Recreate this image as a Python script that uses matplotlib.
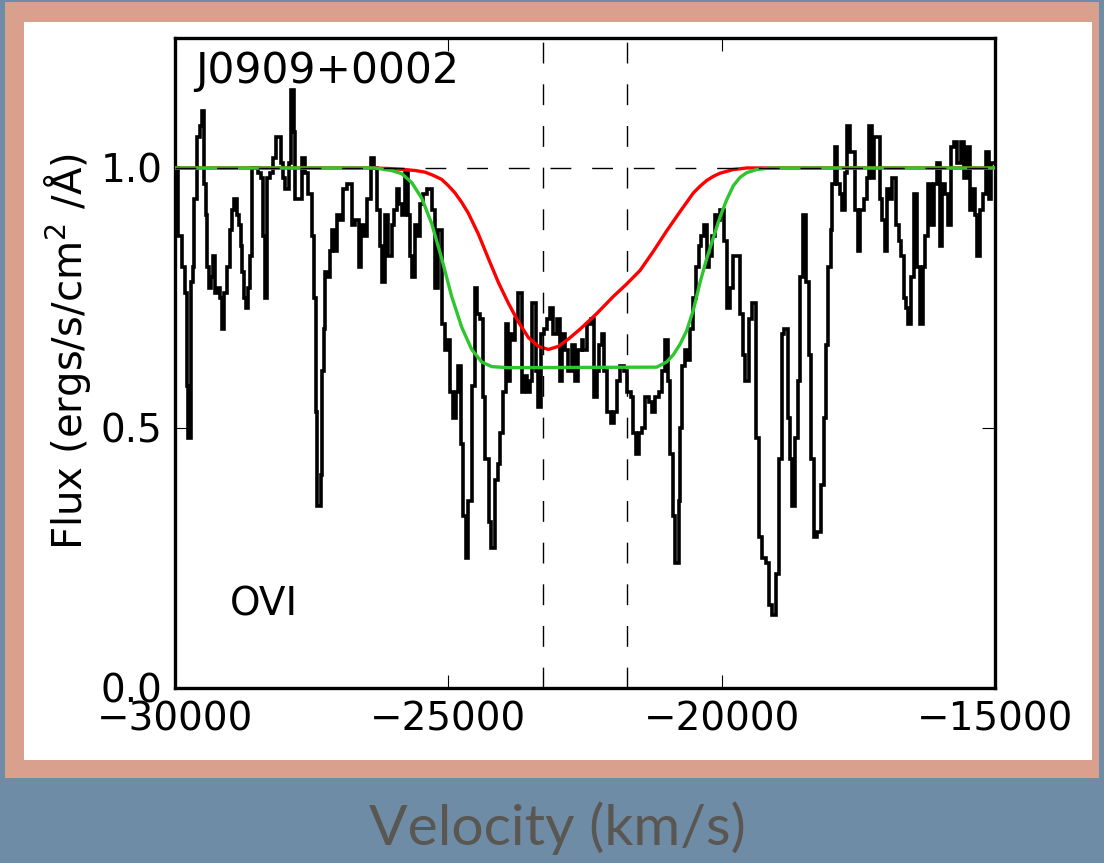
import matplotlib
matplotlib.use('Agg')
import matplotlib.pyplot as plt
from matplotlib.patches import Rectangle

# ── Data ───────────────────────────────────────────────────
# spectrum: left edge of each pixel (km/s) and its normalised flux
spec_vel = [
    -30000, -29939, -29878, -29817, -29786, -29756, -29707, -29677, -29652, -29603,
    -29542, -29512, -29469, -29439, -29408, -29378, -29347, -29311, -29268, -29225,
    -29176, -29140, -29103, -29042, -28993, -28951, -28920, -28872, -28829, -28798,
    -28768, -28737, -28701, -28658, -28628, -28591, -28475, -28433, -28384, -28359,
    -28323, -28262, -28201, -28158, -28097, -28060, -28018, -27987, -27920, -27871,
    -27829, -27798, -27682, -27621, -27560, -27499, -27457, -27420, -27396, -27335,
    -27310, -27280, -27250, -27213, -27164, -27121, -27073, -27030, -26981, -26920,
    -26859, -26768, -26701, -26640, -26603, -26542, -26481, -26420, -26359, -26311,
    -26250, -26207, -26158, -26097, -26036, -25987, -25945, -25896, -25853, -25792,
    -25731, -25695, -25658, -25609, -25561, -25518, -25457, -25384, -25304, -25243,
    -25183, -25122, -25060, -25012, -24963, -24914, -24865, -24817, -24768, -24725,
    -24683, -24634, -24573, -24512, -24475, -24414, -24372, -24323, -24262, -24213,
    -24146, -24097, -24048, -24000, -23951, -23902, -23872, -23829, -23780, -23719,
    -23658, -23615, -23567, -23506, -23463, -23402, -23353, -23304, -23249, -23188,
    -23140, -23079, -23018, -22957, -22914, -22865, -22804, -22743, -22682, -22621,
    -22560, -22530, -22469, -22396, -22335, -22274, -22237, -22195, -22152, -22091,
    -22030, -21969, -21908, -21859, -21786, -21725, -21664, -21615, -21573, -21518,
    -21457, -21396, -21335, -21274, -21213, -21152, -21091, -21030, -20987, -20945,
    -20896, -20853, -20786, -20756, -20719, -20664, -20628, -20573, -20518, -20475,
    -20420, -20384, -20323, -20268, -20231, -20176, -20115, -20073, -20024, -19963,
    -19902, -19853, -19792, -19731, -19664, -19609, -19567, -19506, -19445, -19378,
    -19317, -19256, -19195, -19134, -19072, -19012, -18951, -18896, -18853, -18792,
    -18756, -18719, -18658, -18609, -18561, -18512, -18463, -18408, -18359, -18311,
    -18250, -18183, -18134, -18091, -18048, -18006, -17975, -17933, -17884, -17835,
    -17792, -17750, -17701, -17646, -17591, -17554, -17506, -17463, -17402, -17341,
    -17298, -17250, -17213, -17158, -17103, -17067, -17018, -16975, -16914, -16878,
    -16817, -16762, -16713, -16670, -16621, -16585, -16530, -16481, -16420, -16365,
    -16317, -16274, -16225, -16176, -16115, -16054, -16000, -15963, -15914, -15859,
    -15810, -15749, -15688, -15627, -15566, -15512, -15451, -15414, -15359, -15322,
    -15274, -15219, -15170, -15115, -15073, -15000,
]
spec_flux = [
    1.00, 0.87, 0.81, 0.76, 0.58, 0.48, 0.78, 0.81, 0.94, 1.06,
    1.08, 1.11, 0.97, 0.91, 0.81, 0.77, 0.79, 0.83, 0.76, 0.77,
    0.75, 0.69, 0.76, 0.81, 0.88, 0.92, 0.94, 0.91, 0.89, 0.85,
    0.80, 0.75, 0.73, 0.77, 0.83, 1.00, 0.99, 0.98, 0.87, 0.75,
    0.98, 0.99, 1.02, 1.06, 1.06, 1.01, 0.98, 0.96, 1.01, 1.15,
    1.07, 0.94, 1.02, 0.99, 0.95, 0.87, 0.75, 0.53, 0.35, 0.41,
    0.61, 0.69, 0.80, 0.79, 0.84, 0.88, 0.84, 0.91, 0.90, 0.96,
    0.97, 0.89, 0.90, 0.81, 0.89, 0.87, 0.94, 1.02, 1.00, 0.92,
    0.85, 0.78, 0.91, 0.83, 0.89, 0.92, 0.96, 0.93, 0.91, 0.99,
    0.91, 0.83, 0.79, 0.89, 0.87, 0.93, 0.95, 0.96, 0.92, 0.77,
    0.88, 0.70, 0.65, 0.67, 0.57, 0.52, 0.57, 0.62, 0.47, 0.33,
    0.25, 0.36, 0.58, 0.77, 0.72, 0.71, 0.56, 0.44, 0.32, 0.27,
    0.40, 0.43, 0.49, 0.57, 0.70, 0.59, 0.68, 0.67, 0.71, 0.76,
    0.57, 0.60, 0.57, 0.59, 0.74, 0.61, 0.54, 0.68, 0.69, 0.71,
    0.73, 0.68, 0.71, 0.59, 0.68, 0.65, 0.61, 0.66, 0.59, 0.65,
    0.67, 0.65, 0.70, 0.71, 0.56, 0.61, 0.66, 0.68, 0.61, 0.53,
    0.51, 0.53, 0.59, 0.62, 0.61, 0.57, 0.56, 0.49, 0.45, 0.49,
    0.50, 0.56, 0.55, 0.53, 0.56, 0.57, 0.61, 0.67, 0.59, 0.45,
    0.33, 0.24, 0.36, 0.50, 0.62, 0.65, 0.63, 0.69, 0.75, 0.81,
    0.85, 0.87, 0.89, 0.81, 0.83, 0.87, 0.91, 0.90, 0.92, 0.86,
    0.73, 0.77, 0.83, 0.83, 0.72, 0.64, 0.59, 0.71, 0.74, 0.48,
    0.29, 0.25, 0.24, 0.16, 0.14, 0.22, 0.44, 0.68, 0.69, 0.52,
    0.44, 0.35, 0.48, 0.59, 0.79, 0.91, 0.78, 0.64, 0.44, 0.29,
    0.30, 0.39, 0.52, 0.66, 0.81, 0.88, 0.97, 1.04, 0.97, 0.95,
    0.92, 0.99, 1.08, 1.03, 1.03, 0.92, 0.84, 0.92, 0.94, 0.98,
    1.08, 0.98, 1.06, 1.06, 0.94, 0.90, 0.84, 0.96, 0.94, 0.98,
    0.89, 0.86, 0.83, 0.75, 0.73, 0.70, 0.79, 0.95, 0.81, 0.70,
    0.81, 0.87, 0.97, 0.89, 0.97, 1.01, 0.85, 0.97, 0.95, 0.89,
    1.04, 1.05, 1.01, 1.05, 0.98, 1.04, 0.92, 0.96, 0.91, 0.83,
    0.92, 0.95, 1.03, 0.94, 1.01,
]

# model fits
red_vel = [-30000, -26400, -26100, -25800, -25600, -25427, -25280, -25122, -25000,
           -24878, -24756, -24634, -24451, -24268, -24085, -23902, -23719, -23536,
           -23353, -23170, -22987, -22804, -22591, -22286, -21981, -21737, -21493,
           -21248, -21006, -20762, -20518, -20395, -20273, -20150, -20030, -19786,
           -19542, -15000]
red_flux = [1.0, 1.0, 0.999, 0.997, 0.995, 0.992, 0.986, 0.978, 0.966,
            0.952, 0.934, 0.913, 0.873, 0.826, 0.780, 0.740, 0.704, 0.674,
            0.657, 0.651, 0.657, 0.671, 0.690, 0.720, 0.753, 0.777, 0.803,
            0.840, 0.879, 0.916, 0.952, 0.965, 0.976, 0.984, 0.990, 0.997,
            1.0, 1.0]

green_vel = [-30000, -26341, -26036, -25853, -25670, -25487, -25304, -25122, -24939,
             -24756, -24573, -24390, -24207, -23902, -21189, -21006, -20884, -20762,
             -20640, -20518, -20396, -20273, -20152, -20030, -19908, -19786, -19664,
             -19542, -19359, -19115, -15000]
green_flux = [1.0, 1.0, 0.995, 0.989, 0.972, 0.942, 0.893, 0.826, 0.753,
              0.694, 0.651, 0.627, 0.618, 0.616, 0.617, 0.627, 0.641, 0.661,
              0.687, 0.727, 0.780, 0.826, 0.866, 0.906, 0.939, 0.966, 0.982,
              0.991, 0.997, 1.0, 1.0]

comp_vel = [-23270, -21730]      # vertical dashed markers
x_ticks = [-30000, -25000, -20000, -15000]
y_ticks = [0.0, 0.5, 1.0]

# ── Colours ────────────────────────────────────────────────
BG_BLUE = '#6f8ca6'
FRAME = '#daa08e'
LABEL_GREY = '#5a5652'

fig = plt.figure(figsize=(11.04, 8.63), dpi=100, facecolor=BG_BLUE)

# salmon frame + white card (behind the axes)
fig.patches.append(Rectangle((0.0045, 0.0985), 0.9910, 0.8992, transform=fig.transFigure,
                             facecolor=FRAME, edgecolor='none', zorder=-2))
fig.patches.append(Rectangle((0.0217, 0.1194), 0.9674, 0.8551, transform=fig.transFigure,
                             facecolor='white', edgecolor='none', zorder=-1))

ax = fig.add_axes([0.1585, 0.2028, 0.7428, 0.7532])
ax.set_zorder(2)
ax.set_facecolor('white')

ax.stairs(spec_flux, spec_vel, baseline=None, color='black', linewidth=2.6, zorder=2)
ax.plot(red_vel, red_flux, color='#ff0000', linewidth=2.4, zorder=3,
        solid_joinstyle='round')
ax.plot(green_vel, green_flux, color='#2ec52e', linewidth=2.4, zorder=4,
        solid_joinstyle='round')

ax.axhline(1.0, color='black', linewidth=1.0, linestyle=(0, (15, 15)), zorder=5)
for v in comp_vel:
    ax.axvline(v, color='black', linewidth=1.0, linestyle=(0, (15, 15)), zorder=5)

ax.set_xlim(-30000, -15000)
ax.set_ylim(0, 1.25)
ax.set_xticks(x_ticks)
ax.set_yticks(y_ticks)
ax.set_yticklabels(['0.0', '0.5', '1.0'])
ax.tick_params(direction='in', length=9.5, width=0.8, top=True, right=True,
               labelsize=28, pad=9)
for s in ax.spines.values():
    s.set_linewidth(2.4)

ax.text(0.024, 0.931, 'J0909+0002', transform=ax.transAxes, fontsize=30.5,
        ha='left', va='baseline')
ax.text(0.067, 0.112, 'OVI', transform=ax.transAxes, fontsize=28,
        ha='left', va='baseline')

fig.text(68 / 1104, 1 - 352 / 863, 'Flux (ergs/s/cm$^2$ /Å)', rotation=90,
         fontsize=29, ha='center', va='center', family='DejaVu Sans')

fig.text(557 / 1104, 1 - 828 / 863, 'Velocity (km/s)', fontsize=41,
         family='Lato', color=LABEL_GREY, ha='center', va='center')

fig.savefig('out.png', dpi=100, facecolor=fig.get_facecolor())
